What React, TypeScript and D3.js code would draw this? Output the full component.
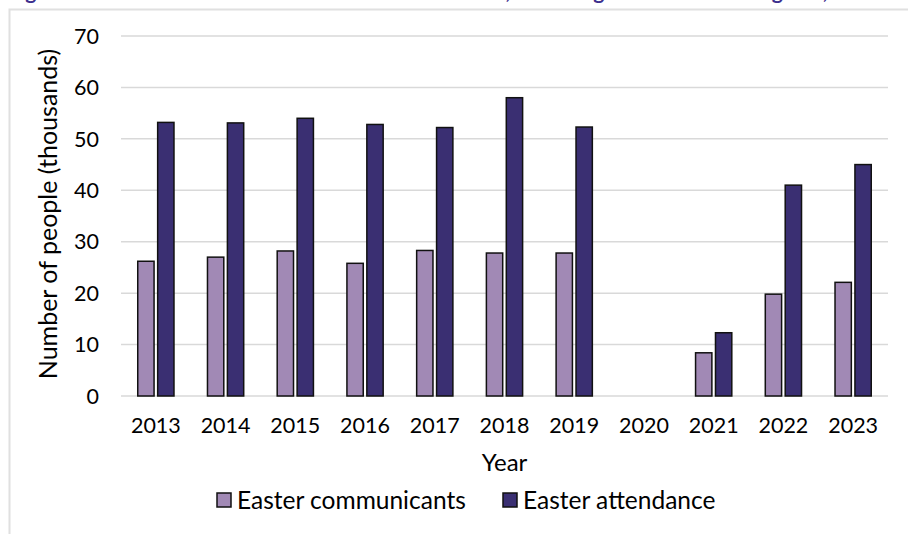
import * as d3 from "d3";

const years = ["2013", "2014", "2015", "2016", "2017", "2018", "2019", "2020", "2021", "2022", "2023"];
const communicants: (number | null)[] = [26.2, 27.0, 28.2, 25.8, 28.3, 27.8, 27.8, null, 8.4, 19.8, 22.1];
const attendance: (number | null)[] = [53.2, 53.1, 54.0, 52.8, 52.2, 58.0, 52.3, null, 12.3, 41.0, 45.0];
const yTicks = [0, 10, 20, 30, 40, 50, 60, 70];

const seriesNames = ["Easter communicants", "Easter attendance"];
const seriesColors = ["#a189b5", "#3a2f72"];

const W = 908;
const H = 534;
const margin = { top: 36, right: 20, bottom: 138, left: 121 };
const font = "Lato, 'Open Sans', sans-serif";

export default function App() {
	const innerW = W - margin.left - margin.right;
	const innerH = H - margin.top - margin.bottom;

	const x = d3.scaleBand<string>().domain(years).range([0, innerW]).paddingInner(0).paddingOuter(0);
	const y = d3.scaleLinear().domain([0, 70]).range([innerH, 0]);

	const barW = x.bandwidth() * 0.234;
	const gap = 3.6;
	const groupW = barW * 2 + gap;

	const series = [communicants, attendance];

	return (
		<svg
			width={W}
			height={H}
			style={{ position: "absolute", left: 0, top: 0, background: "#fff" }}
			fontFamily={font}
		>
			{/* title sits mostly above the frame, only its descenders show */}
			<text x={8} y={-1} fontSize={21} fontWeight="bold" fill="#3d2f8e">
				Figure 6: Easter communicants and Easter attendance, excluding 2020 lockdown figures, 2013 to 2023
			</text>
			<rect x={9.5} y={9.5} width={W} height={H} fill="none" stroke="#e0e0e0" strokeWidth={2} />
			<g transform={`translate(${margin.left},${margin.top})`}>
				{yTicks.map((t) => (
					<g key={t}>
						<line x1={0} x2={innerW} y1={y(t)} y2={y(t)} stroke="#d9d9d9" strokeWidth={1.5} />
						<text x={-22} y={y(t)} dy="0.36em" textAnchor="end" fontSize={21.5} fill="#000">
							{t}
						</text>
					</g>
				))}
				{years.map((yr, i) => {
					const cx = (x(yr) ?? 0) + x.bandwidth() / 2;
					return (
						<g key={yr}>
							{series.map((s, j) => {
								const v = s[i];
								if (v == null) return null;
								const bx = cx - groupW / 2 + j * (barW + gap);
								return (
									<rect
										key={j}
										x={bx}
										y={y(v)}
										width={barW}
										height={y(0) - y(v)}
										fill={seriesColors[j]}
										stroke="#111"
										strokeWidth={1.5}
									/>
								);
							})}
							<text x={cx} y={innerH + 37} textAnchor="middle" fontSize={21.5} fill="#000">
								{yr}
							</text>
						</g>
					);
				})}
				<text x={innerW / 2} y={innerH + 75} textAnchor="middle" fontSize={24} fill="#000">
					Year
				</text>
				<text
					transform={`translate(${-64},${innerH / 2 - 2}) rotate(-90)`}
					textAnchor="middle"
					fontSize={25}
					fill="#000"
				>
					Number of people (thousands)
				</text>
			</g>
			<g transform="translate(217,493)">
				{seriesNames.map((name, j) => {
					const ox = j * 286;
					return (
						<g key={name} transform={`translate(${ox},0)`}>
							<rect x={0} y={0} width={14} height={14} fill={seriesColors[j]} stroke="#111" strokeWidth={1.5} />
							<text x={20} y={15.5} fontSize={24.5} fill="#000">
								{name}
							</text>
						</g>
					);
				})}
			</g>
		</svg>
	);
}
